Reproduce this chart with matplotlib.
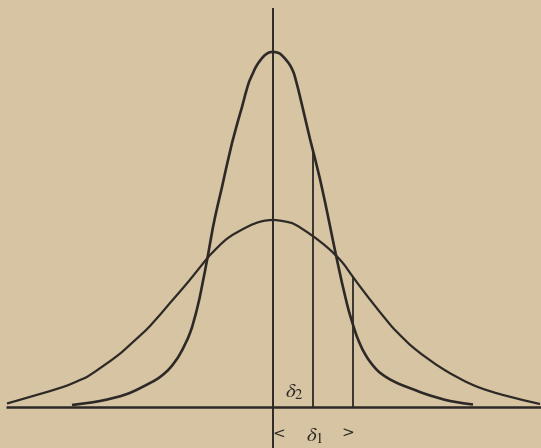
import matplotlib.pyplot as plt
from matplotlib.path import Path
from matplotlib.patches import PathPatch

# Curves: horizontal offset from the vertical axis, height above the base line
tall_x = [-201, -173, -146, -123, -113, -103, -93, -83, -76, -71, -65, -60, -55, -51, -41,
          -31, -25, -20, -16, -10, -5, -1, 4, 8, 14, 18, 22, 29, 37, 47, 57, 64,
          74, 82, 87, 92, 98, 105, 113, 122, 130, 142, 154, 177, 200]
tall_h = [2, 6, 13, 24, 30, 39, 53, 74, 98, 121, 152, 180, 203, 220, 264,
          300, 322, 334, 342, 350, 354, 355, 354.5, 352.5, 346, 340, 330, 302, 268, 228, 181, 147,
          103, 76, 63, 53, 44, 36, 30, 25, 21.5, 17, 12.5, 6, 2.5]

wide_x = [-266, -240, -210, -193, -183, -156, -140, -123, -103, -90, -80, -68, -61, -45, -25,
          -12, 0, 12, 22, 39, 55, 69, 80, 95, 115, 124, 142, 170, 200, 230, 267]
wide_h = [3.5, 11, 20, 27, 32, 51, 65, 81, 104, 119, 131, 146, 154, 169, 180.5,
          185.5, 187, 185.5, 182.5, 171.5, 159, 145, 130, 110, 85, 75, 58, 38, 22, 12, 3]

# ordinates marking delta_2 (tall curve) and delta_1 (wide curve)
delta_x = [40, 80]
delta_h = [254, 129]

bg = "#d7c4a3"
ink = "#2c2926"


def smooth_path(xs, ys):
    # cubic Bezier through the read points (Catmull-Rom tangents)
    pts = list(zip(xs, ys))
    verts = [pts[0]]
    codes = [Path.MOVETO]
    for i in range(len(pts) - 1):
        p0 = pts[i - 1] if i > 0 else pts[i]
        p1 = pts[i]
        p2 = pts[i + 1]
        p3 = pts[i + 2] if i + 2 < len(pts) else pts[i + 1]
        c1 = (p1[0] + (p2[0] - p0[0]) / 6, p1[1] + (p2[1] - p0[1]) / 6)
        c2 = (p2[0] - (p3[0] - p1[0]) / 6, p2[1] - (p3[1] - p1[1]) / 6)
        verts += [c1, c2, p2]
        codes += [Path.CURVE4] * 3
    return Path(verts, codes)


plt.rcParams["mathtext.fontset"] = "stix"

fig = plt.figure(figsize=(5.41, 4.48), dpi=100)
fig.patch.set_facecolor(bg)
ax = fig.add_axes([0, 0, 1, 1])
ax.set_facecolor(bg)
ax.set_xlim(-273, 268)
ax.set_ylim(-41, 407)
ax.axis("off")

# base line and vertical axis
ax.plot([-267, 268], [0, 0], color=ink, lw=1.8, solid_capstyle="butt")
ax.plot([0, 0], [-41, 399], color=ink, lw=1.4, solid_capstyle="butt")

# the two curves
ax.add_patch(PathPatch(smooth_path(tall_x, tall_h), fill=False, edgecolor=ink, lw=1.9))
ax.add_patch(PathPatch(smooth_path(wide_x, wide_h), fill=False, edgecolor=ink, lw=1.6))

# ordinates
for x, h in zip(delta_x, delta_h):
    ax.plot([x, x], [0, h], color=ink, lw=1.3)

ax.text(21, 15, r"$\delta_2$", fontsize=15, color=ink, ha="center", va="center")
ax.text(42, -29, r"$\delta_1$", fontsize=15, color=ink, ha="center", va="center")
ax.text(6, -28, "<", fontsize=11, family="DejaVu Serif", color=ink, ha="center", va="center")
ax.text(75, -27, ">", fontsize=11, family="DejaVu Serif", color=ink, ha="center", va="center")

fig.savefig("out.png", dpi=100, facecolor=bg)
